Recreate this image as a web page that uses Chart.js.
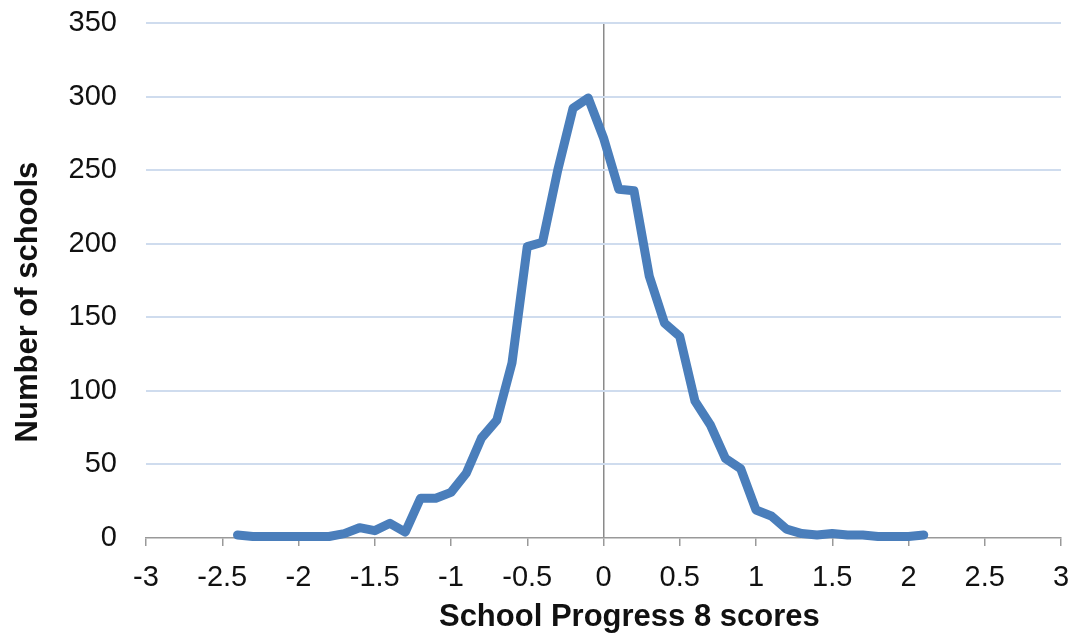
<!DOCTYPE html>
<html>
<head>
<meta charset="utf-8">
<script src="https://cdn.jsdelivr.net/npm/chart.js@4/dist/chart.umd.min.js"></script>
<style>
    html, body { margin: 0; padding: 0; background: #fff; }
    #wrap { width: 1073px; height: 642px; }
</style>
</head>
<body>
<div id="wrap"><canvas id="chart"></canvas></div>
<script>
// Progress 8 score (bin centre) and number of schools in each bin
const scores = [-2.4, -2.3, -2.2, -2.1, -2.0, -1.9, -1.8, -1.7, -1.6, -1.5, -1.4, -1.3, -1.2, -1.1, -1.0,
    -0.9, -0.8, -0.7, -0.6, -0.5, -0.4, -0.3, -0.2, -0.1, 0.0, 0.1, 0.2, 0.3, 0.4, 0.5, 0.6, 0.7,
    0.8, 0.9, 1.0, 1.1, 1.2, 1.3, 1.4, 1.5, 1.6, 1.7, 1.8, 1.9, 2.0, 2.1];
const schools = [2, 1, 1, 1, 1, 1, 1, 3, 7, 5, 10, 4, 27, 27, 31,
    44, 68, 80, 119, 198, 201, 250, 292, 299, 272, 237, 236, 178, 146, 137, 93, 77,
    54, 47, 19, 15, 6, 3, 2, 3, 2, 2, 1, 1, 1, 2];

// titles sit a little off-centre in the original, the spaces nudge them over
const xTitle = '      School Progress 8 scores';
const yTitle = 'Number of schools     ';

const points = scores.map((s, i) => ({ x: s, y: schools[i] }));

const tickFont = { family: 'Liberation Sans, Arial, sans-serif', size: 29 };
const titleFont = { family: 'Liberation Sans, Arial, sans-serif', size: 31, weight: 'bold' };

new Chart(document.getElementById('chart'), {
    type: 'line',
    data: {
        datasets: [{
            data: points,
            borderColor: '#4a7ebb',
            borderWidth: 9,
            borderJoinStyle: 'round',
            borderCapStyle: 'round',
            pointRadius: 0,
            tension: 0,
            fill: false,
            clip: 12,
        }],
    },
    options: {
        responsive: true,
        maintainAspectRatio: false,
        animation: false,
        layout: { padding: { left: 10, right: 12, top: 23, bottom: 3 } },
        plugins: {
            legend: { display: false },
            tooltip: { enabled: false },
        },
        scales: {
            x: {
                type: 'linear',
                min: -3,
                max: 3,
                afterFit: (scale) => {
                    scale.height = 101;
                    scale.paddingLeft = 0;
                    scale.paddingRight = 0;
                },
                ticks: {
                    stepSize: 0.5,
                    color: '#111',
                    font: tickFont,
                    padding: 15,
                    maxRotation: 0,
                    callback: (v) => String(Math.round(v * 10) / 10),
                },
                grid: {
                    color: (ctx) => (ctx.tick && ctx.tick.value === 0 ? '#8a8a8a' : 'rgba(0,0,0,0)'),
                    lineWidth: 1.5,
                    tickColor: '#999',
                    tickLength: 8,
                },
                border: { color: '#999', width: 1.5 },
                title: {
                    display: true,
                    text: xTitle,
                    color: '#111',
                    font: titleFont,
                    padding: { top: 0, bottom: 3 },
                },
            },
            y: {
                min: 0,
                max: 350,
                afterFit: (scale) => {
                    scale.width = 136;
                    scale.paddingTop = 0;
                    scale.paddingBottom = 0;
                },
                ticks: {
                    stepSize: 50,
                    color: '#111',
                    font: tickFont,
                    padding: 29,
                },
                grid: {
                    color: (ctx) => (ctx.tick && ctx.tick.value === 0 ? 'rgba(0,0,0,0)' : '#cfdcee'),
                    lineWidth: 2,
                    drawTicks: false,
                },
                border: { display: false },
                title: {
                    display: true,
                    text: yTitle,
                    color: '#111',
                    font: titleFont,
                    padding: { top: 0, bottom: 0 },
                },
            },
        },
    },
});
</script>
</body>
</html>
